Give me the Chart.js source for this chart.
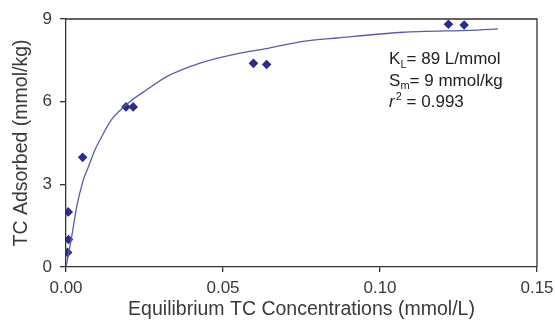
<!DOCTYPE html>
<html>
<head>
<meta charset="utf-8">
<script src="https://cdn.jsdelivr.net/npm/chart.js@4"></script>
<style>
  html, body { margin: 0; padding: 0; background: #fff; }
  #wrap { width: 555px; height: 321px; }
</style>
</head>
<body>
<div id="wrap"><canvas id="grafica" width="555" height="321"></canvas></div>
<script>
// measured points (equilibrium conc. vs amount adsorbed)
const concObs = [0.0005, 0.0008, 0.0007, 0.0053, 0.0191, 0.0214, 0.0597, 0.0639, 0.1218, 0.1268];
const qObs = [0.53, 1.0, 2.0, 3.98, 5.81, 5.81, 7.39, 7.35, 8.81, 8.78];

// fitted curve
const concFit = [0.0001, 0.0018, 0.0034, 0.0055, 0.0071, 0.0092, 0.0108, 0.0146, 0.0204, 0.0257, 0.0322, 0.0427, 0.0532, 0.0650, 0.0755, 0.0863, 0.1073, 0.1287, 0.1376];
const qFit = [0.05, 1.09, 2.18, 3.16, 3.63, 4.25, 4.61, 5.37, 6.01, 6.43, 6.92, 7.40, 7.71, 7.95, 8.19, 8.31, 8.52, 8.59, 8.64];

const xTicks = [0, 0.05, 0.10, 0.15];
const yTicks = [0, 3, 6, 9];

const notas = [
    { main: 'K', sub: 'L', rest: '= 89 L/mmol' },
    { main: 'S', sub: 'm', rest: '= 9 mmol/kg' },
    { main: 'r', sup: '2', rest: ' = 0.993' }
];

const colorEje = '#333333';
const colorTexto = '#3a3a3a';
const fuente = '"Liberation Sans", Arial, sans-serif';

const puntosObs = concObs.map((c, i) => ({ x: c, y: qObs[i] }));
const puntosFit = concFit.map((c, i) => ({ x: c, y: qFit[i] }));

// box around the plot + the fit parameters text
const marcoYTexto = {
    id: 'marcoYTexto',
    afterDraw(chart) {
        const ctx = chart.ctx;
        const a = chart.chartArea;
        const sx = chart.scales.x;
        const sy = chart.scales.y;
        ctx.save();
        ctx.strokeStyle = colorEje;
        ctx.lineWidth = 1.3;
        ctx.beginPath();
        ctx.moveTo(a.left, a.top);
        ctx.lineTo(a.right, a.top);
        ctx.lineTo(a.right, a.bottom);
        ctx.stroke();

        ctx.fillStyle = '#222';
        ctx.textBaseline = 'middle';
        ctx.textAlign = 'left';
        const x0 = sx.getPixelForValue(0.1029);
        const yVals = [7.52, 6.74, 5.99];
        notas.forEach((n, i) => {
            let x = x0;
            const y = sy.getPixelForValue(yVals[i]);
            ctx.font = (n.main === 'r' ? 'italic ' : '') + '17px ' + fuente;
            ctx.fillText(n.main, x, y);
            x += ctx.measureText(n.main).width;
            if (n.sub) {
                ctx.font = '11px ' + fuente;
                ctx.fillText(n.sub, x, y + 5);
                x += ctx.measureText(n.sub).width;
            }
            if (n.sup) {
                ctx.font = '11px ' + fuente;
                ctx.fillText(n.sup, x + 1, y - 5);
                x += ctx.measureText(n.sup).width + 1;
            }
            ctx.font = '17px ' + fuente;
            ctx.fillText(n.rest, x, y);
        });
        ctx.restore();
    }
};

const ctx = document.getElementById('grafica').getContext('2d');
new Chart(ctx, {
    type: 'scatter',
    data: {
        datasets: [
            {
                label: 'Ajuste',
                data: puntosFit,
                showLine: true,
                borderColor: '#5b5bab',
                borderWidth: 1.3,
                pointRadius: 0,
                tension: 0.25,
                fill: false
            },
            {
                label: 'Medido',
                data: puntosObs,
                showLine: false,
                pointStyle: 'rectRot',
                pointRadius: 4.8,
                backgroundColor: '#2b2c8c',
                borderColor: '#2b2c8c',
                borderWidth: 0
            }
        ]
    },
    options: {
        responsive: false,
        animation: false,
        layout: { padding: { top: 19, right: 18, left: 10, bottom: 0 } },
        plugins: {
            legend: { display: false },
            tooltip: { enabled: false }
        },
        scales: {
            x: {
                type: 'linear',
                min: 0,
                max: 0.15,
                afterBuildTicks: (s) => { s.ticks = xTicks.map(v => ({ value: v })); },
                afterFit: (s) => { s.height = 54; s.paddingLeft = 0; s.paddingRight = 0; },
                ticks: {
                    color: colorTexto,
                    font: { family: fuente, size: 17 },
                    padding: 6,
                    maxRotation: 0,
                    callback: (v) => v.toFixed(2)
                },
                grid: { drawOnChartArea: false, drawTicks: true, tickLength: 5, color: colorEje, lineWidth: 1.3 },
                border: { color: colorEje, width: 1.3 },
                title: {
                    display: true,
                    text: 'Equilibrium TC Concentrations (mmol/L)',
                    color: colorTexto,
                    font: { family: fuente, size: 19.5 },
                    padding: { top: 0, bottom: 0 }
                }
            },
            y: {
                type: 'linear',
                min: 0,
                max: 9,
                afterBuildTicks: (s) => { s.ticks = yTicks.map(v => ({ value: v })); },
                afterFit: (s) => { s.width = 56; s.paddingTop = 0; s.paddingBottom = 0; },
                ticks: {
                    color: colorTexto,
                    font: { family: fuente, size: 17 },
                    padding: 8
                },
                grid: { drawOnChartArea: false, drawTicks: true, tickLength: 6, color: colorEje, lineWidth: 1.3 },
                border: { color: colorEje, width: 1.3 },
                title: {
                    display: true,
                    text: 'TC Adsorbed (mmol/kg)',
                    color: colorTexto,
                    font: { family: fuente, size: 19.5 },
                    padding: { top: 0, bottom: 0 }
                }
            }
        }
    },
    plugins: [marcoYTexto]
});
</script>
</body>
</html>
